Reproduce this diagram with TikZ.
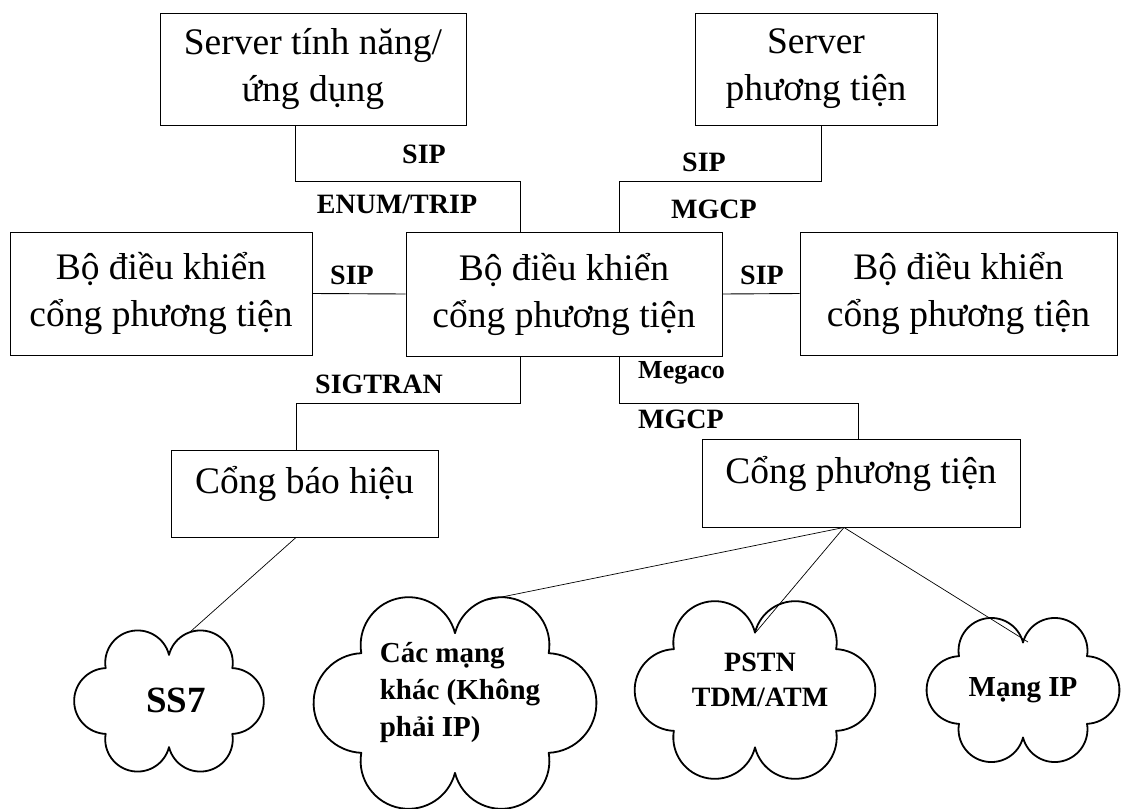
\documentclass[tikz,border=0pt]{standalone}
\usepackage{fontspec}
\setmainfont{Liberation Serif}
\usetikzlibrary{calc}

% Cloud outline: six circular puffs between notch points,
% #1,#2 centre, #3 half width, #4 half height
\def\puffarc{175}
\newcommand\puffcloud[4]{%
  \begin{scope}[shift={(#1,#2)}, x=1pt, y=1pt]
    \foreach \ax/\ay/\bx/\by in {0.66/-0.47/0.66/0.47, 0.66/0.47/0/0.66,
        0/0.66/-0.66/0.47, -0.66/0.47/-0.66/-0.47,
        -0.66/-0.47/0/-0.66, 0/-0.66/0.66/-0.47}{
      \pgfmathsetmacro\px{(\ax)*(#3)}
      \pgfmathsetmacro\py{(\ay)*(#4)}
      \pgfmathsetmacro\qx{(\bx)*(#3)}
      \pgfmathsetmacro\qy{(\by)*(#4)}
      \pgfmathsetmacro\cl{veclen((\qx)-(\px),(\qy)-(\py))}
      \pgfmathsetmacro\rr{(\cl)/(2*sin(\puffarc/2))}
      \pgfmathsetmacro\ux{((\qx)-(\px))/(\cl)}
      \pgfmathsetmacro\uy{((\qy)-(\py))/(\cl)}
      \pgfmathsetmacro\ox{((\px)+(\qx))/2-(\uy)*(\rr)*cos(\puffarc/2)}
      \pgfmathsetmacro\oy{((\py)+(\qy))/2+(\ux)*(\rr)*cos(\puffarc/2)}
      \pgfmathsetmacro\sa{atan2((\py)-(\oy),(\px)-(\ox))}
      \draw[cloudline] (\px,\py) arc[start angle=\sa, delta angle=\puffarc, radius=\rr];
    }
  \end{scope}}

\begin{document}
\begin{tikzpicture}[x=1pt,y=-1pt,
  box/.style={draw=black, line width=0.9pt, inner sep=0pt, align=center,
              font=\fontsize{37.5}{47}\selectfont},
  lbl/.style={font=\bfseries\fontsize{28}{34}\selectfont, inner sep=0pt},
  wire/.style={draw=black, line width=0.9pt},
  thinwire/.style={draw=black, line width=0.7pt},
  cloudline/.style={draw=black, line width=1.8pt, line cap=round, line join=round},
  nettext/.style={inner sep=0pt, font=\bfseries\fontsize{28}{35}\selectfont}
]
\fill[white] (0,0) rectangle (1123,808);
\useasboundingbox (0,0) rectangle (1123,808);

% servers
\node[box, minimum width=306, minimum height=112] (feat) at (313,69) {Server tính năng/\\ứng dụng};
\node[box, minimum width=242, minimum height=112] (msrv) at (816,69) {Server\\phương tiện};

% media gateway controllers
\node[box, minimum width=302, minimum height=123] (mgcl) at (161,293.5) {Bộ điều khiển\\cổng phương tiện};
\node[box, minimum width=316, minimum height=124] (mgcc) at (564,294) {Bộ điều khiển\\cổng phương tiện};
\node[box, minimum width=317, minimum height=123] (mgcr) at (958.5,293.5) {Bộ điều khiển\\cổng phương tiện};

% gateways
\node[box, minimum width=267, minimum height=87, text height=25pt, text depth=25pt] (sgw) at (304.5,493.5) {Cổng báo hiệu};
\node[box, minimum width=318, minimum height=88, text height=25pt, text depth=25pt] (mgw) at (861,483) {Cổng phương tiện};

% signalling links
\draw[wire] ([xshift=-18]feat.south) -- ++(0,56) -| ([xshift=-44]mgcc.north);
\draw[wire] ([xshift=5]msrv.south) -- ++(0,56) -| ([xshift=55]mgcc.north);
\draw[wire] (mgcl.east) -- (mgcc.west);
\draw[wire] (mgcc.east) -- (mgcr.west);
\draw[wire] ([xshift=-44]mgcc.south) -- ++(0,47) -| ([xshift=-8.5]sgw.north);
\draw[wire] ([xshift=55]mgcc.south) -- ++(0,47) -| ([xshift=-3]mgw.north);

% protocol labels
\node[lbl] (sipa) at (424,154) {SIP};
\node[lbl] (enum) at (397,204) {ENUM/TRIP};
\node[lbl] (sipb) at (704,162) {SIP};
\node[lbl] (mgcpa) at (714,209) {MGCP};
\node[lbl] (sipl) at (352,275) {SIP};
\node[lbl] (sipr) at (762,275) {SIP};
\node[lbl, anchor=west] (sigtran) at (315,384) {SIGTRAN};
\node[lbl, anchor=west, font=\bfseries\fontsize{26}{30}\selectfont] (megaco) at (638,373) {Megaco};
\node[lbl, anchor=west] (mgcpb) at (638,419) {MGCP};

% networks
\coordinate (ss7c) at (169,701);
\coordinate (otherc) at (455,703);
\coordinate (pstnc) at (755,690);
\coordinate (ipc) at (1023,690);
\puffcloud{169}{701}{96}{70}
\puffcloud{455}{703}{142}{106}
\puffcloud{755}{690}{123}{87}
\puffcloud{1023}{690}{97}{72}
\node[nettext, font=\bfseries\fontsize{37}{40}\selectfont] (ss7) at (176,700) {SS7};
\node[nettext, align=left, font=\bfseries\fontsize{29}{37}\selectfont] (other) at (460,693) {Các mạng\\khác (Không\\phải IP)};
\node[nettext, align=center] (pstn) at (760,680) {PSTN\\TDM/ATM};
\node[nettext, font=\bfseries\fontsize{29}{34}\selectfont] (ipnet) at (1023,690) {Mạng IP};

% gateway to network links
\draw[thinwire] ([xshift=-8.5]sgw.south) -- ($(ss7c)+(21,-69)$);
\draw[thinwire] ([xshift=-17]mgw.south) -- ($(otherc)+(32,-103)$);
\draw[thinwire] ([xshift=-17]mgw.south) -- ($(pstnc)+(1,-58)$);
\draw[thinwire] ([xshift=-17]mgw.south) -- ($(ipc)+(5,-48)$);
\end{tikzpicture}
\end{document}
